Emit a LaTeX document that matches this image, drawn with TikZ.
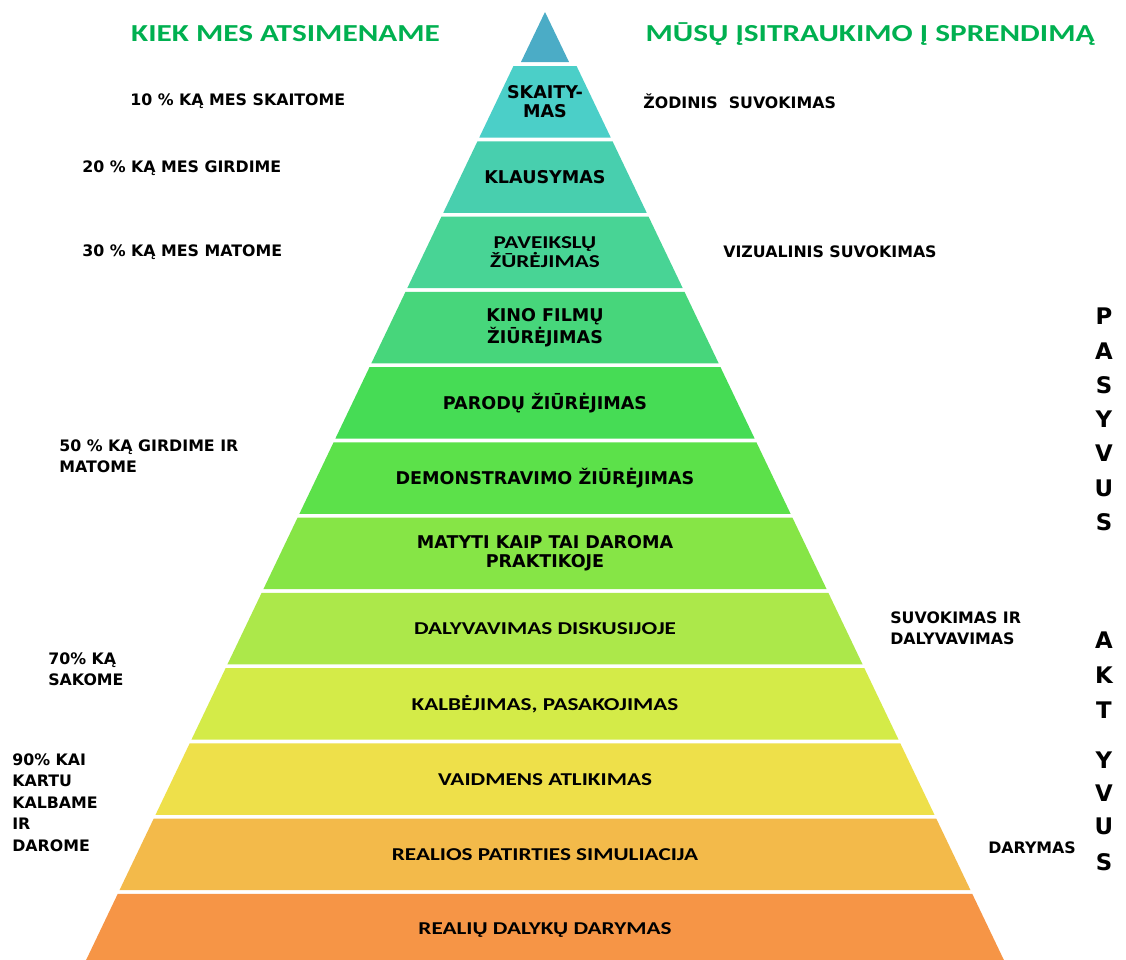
\documentclass[tikz,border=0pt]{standalone}
\usepackage{fontspec}
\usepackage{xcolor}
\usepackage{tikz}
\usetikzlibrary{positioning}
\newfontfamily\calw[FakeStretch=1.28]{Carlito}
\newfontfamily\verd{DejaVu Sans}
\definecolor{headgreen}{HTML}{00B050}
\definecolor{lvTop}{HTML}{4BACC6}
\definecolor{lvA}{HTML}{4BCFC8}
\definecolor{lvB}{HTML}{48CFAE}
\definecolor{lvC}{HTML}{48D495}
\definecolor{lvD}{HTML}{47D67B}
\definecolor{lvE}{HTML}{46DC55}
\definecolor{lvF}{HTML}{5CE14A}
\definecolor{lvG}{HTML}{86E546}
\definecolor{lvH}{HTML}{ACE84A}
\definecolor{lvI}{HTML}{D4EB48}
\definecolor{lvJ}{HTML}{EEE04A}
\definecolor{lvK}{HTML}{F3BA4A}
\definecolor{lvL}{HTML}{F69546}
\tikzset{
  lvl/.style = {align=center, inner sep=0pt,
    font=\verd\bfseries\fontsize{10}{10.6}\selectfont},% pakopos tekstas
  lvlc/.style = {align=center, inner sep=0pt,
    font=\calw\bfseries\fontsize{10.3}{11}\selectfont},% siauresnis tekstas
  side/.style = {align=left, anchor=west, inner sep=0pt,
    font=\verd\bfseries\fontsize{9}{12.2}\selectfont},% šoniniai užrašai
  head/.style = {anchor=base, inner sep=0pt, text=headgreen,
    font=\calw\bfseries\fontsize{13.9}{16}\selectfont},
  vlet/.style = {inner sep=0pt, font=\verd\bfseries\fontsize{13}{14}\selectfont}
}

\begin{document}
\begin{tikzpicture}[x=0.02cm,y=-0.02cm]
\useasboundingbox (0,0) rectangle (1126,960);
\fill[white] (0,0) rectangle (1126,960);

% piramidė
\fill[lvTop] (545,12) -- (569,62) -- (521,62) -- cycle;
\foreach \i/\c in {1/lvA,2/lvB,3/lvC,4/lvD,5/lvE,6/lvF,
                   7/lvG,8/lvH,9/lvI,10/lvJ,11/lvK,12/lvL} {
  \pgfmathsetmacro\yt{66+(\i-1)*75.27}
  \pgfmathsetmacro\yb{min(\yt+71.5,960)}
  \fill[\c] ({545-0.478*\yt},\yt) -- ({545+0.478*\yt},\yt)
     -- ({545+0.478*\yb},\yb) -- ({545-0.478*\yb},\yb) -- cycle;
}

\node[lvl] (skaitymas) at (545,101.7) {SKAITY-\\MAS};
\node[lvl] (klausymas) at (545,177) {KLAUSYMAS};
\node[lvlc] (paveikslu) at (545,252.2) {PAVEIKSLŲ\\ŽŪRĖJIMAS};
\node[lvl] (kino) at (545,327.5) {KINO FILMŲ\\ŽIŪRĖJIMAS};
\node[lvl] (parodu) at (545,402.8) {PARODŲ ŽIŪRĖJIMAS};
\node[lvl] (demonstr) at (545,478) {DEMONSTRAVIMO ŽIŪRĖJIMAS};
\node[lvl] (matyti) at (545,553.3) {MATYTI KAIP TAI DAROMA\\PRAKTIKOJE};
\node[lvlc] (dalyv) at (545,628.6) {DALYVAVIMAS DISKUSIJOJE};
\node[lvlc] (kalbejimas) at (545,703.9) {KALBĖJIMAS, PASAKOJIMAS};
\node[lvlc] (vaidmens) at (545,779.2) {VAIDMENS ATLIKIMAS};
\node[lvlc] (simuliacija) at (545,854.4) {REALIOS PATIRTIES SIMULIACIJA};
\node[lvlc] (darymas) at (545,929.7) {REALIŲ DALYKŲ DARYMAS};

% antraštės
\node[head] (kiek) at (285.5,41) {KIEK MES ATSIMENAME};
\node[head] (musu) at (870,41) {MŪSŲ ĮSITRAUKIMO Į SPRENDIMĄ};

% kairė pusė
\node[side] (p10) at (130,101) {10 \% KĄ MES SKAITOME};
\node[side] (p20) at (82,168) {20 \% KĄ MES GIRDIME};
\node[side] (p30) at (82,252) {30 \% KĄ MES MATOME};
\node[side] (p50) at (59,456) {50 \% KĄ GIRDIME IR\\MATOME};
\node[side] (p70) at (48,669) {70\% KĄ\\SAKOME};
\node[side] (p90) at (12,802.5) {90\% KAI\\KARTU\\KALBAME\\IR\\DAROME};

% dešinė pusė
\node[side] (zodinis) at (643,101) {ŽODINIS\ \ SUVOKIMAS};
\node[side] (vizual) at (723,252) {VIZUALINIS SUVOKIMAS};
\node[side] (suvok) at (890,628.5) {SUVOKIMAS IR\\DALYVAVIMAS};
\node[side] (darymasr) at (988,848) {DARYMAS};

% vertikalūs žodžiai
\foreach \l/\y [count=\k] in {P/316,A/351,S/385,Y/419,V/453,U/488,S/522}
  \node[vlet] (pas\k) at (1104,\y) {\l};
\foreach \l/\y [count=\k] in {A/640,K/675,T/710,Y/760,V/793,U/826,S/862}
  \node[vlet] (akt\k) at (1104,\y) {\l};
\end{tikzpicture}
\end{document}
